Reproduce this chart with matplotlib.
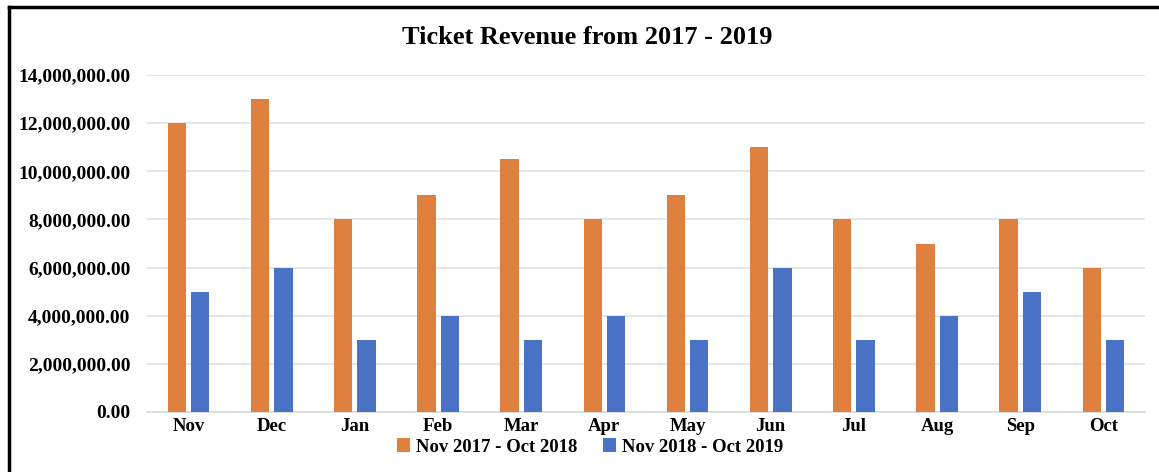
import numpy as np
import matplotlib.pyplot as plt
from matplotlib.lines import Line2D
from matplotlib.ticker import FuncFormatter

months = ["Nov", "Dec", "Jan", "Feb", "Mar", "Apr", "May", "Jun", "Jul", "Aug", "Sep", "Oct"]
rev_2017_2018 = [12000000, 13000000, 8000000, 9000000, 10500000, 8000000,
                 9000000, 11000000, 8000000, 7000000, 8000000, 6000000]
rev_2018_2019 = [5000000, 6000000, 3000000, 4000000, 3000000, 4000000,
                 3000000, 6000000, 3000000, 4000000, 5000000, 3000000]
series_labels = ["Nov 2017 - Oct 2018", "Nov 2018 - Oct 2019"]

orange = '#E0803E'
blue = '#4A72C5'

plt.rcParams['font.family'] = ['Liberation Serif', 'DejaVu Serif']
plt.rcParams['font.weight'] = 'bold'

W, H = 1159, 472
fig = plt.figure(figsize=(W / 100, H / 100), dpi=100)
ax = fig.add_axes([147 / W, 1 - 412 / H, (1145 - 147) / W, (412 - 75) / H])

x = np.arange(len(months))
bw = 0.22
ax.bar(x - 0.14, rev_2017_2018, bw, color=orange, label=series_labels[0], zorder=3)
ax.bar(x + 0.14, rev_2018_2019, bw, color=blue, label=series_labels[1], zorder=3)

ax.set_xlim(-0.5, len(months) - 0.5)
ax.set_ylim(0, 14000000)
ax.set_yticks(np.arange(0, 14000001, 2000000))
ax.yaxis.set_major_formatter(FuncFormatter(lambda v, p: f"{v:,.2f}"))
ax.set_xticks(x)
ax.set_xticklabels(months)
ax.tick_params(axis='y', length=0, labelsize=14, pad=12)
ax.tick_params(axis='x', length=0, labelsize=13.5, pad=4)
for lbl in ax.get_xticklabels() + ax.get_yticklabels():
    lbl.set_fontweight('bold')

ax.grid(axis='y', color='#E0E0E0', linewidth=1.2, zorder=0)
for s in ['top', 'right', 'left']:
    ax.spines[s].set_visible(False)
ax.spines['bottom'].set_color('#D9D9D9')
ax.spines['bottom'].set_linewidth(1.2)

fig.text(587 / W, 1 - 37 / H, "Ticket Revenue from 2017 - 2019", ha='center', va='center',
         fontsize=19, fontweight='bold')

fig.legend(loc='center', bbox_to_anchor=(590 / W, 1 - 447 / H), ncol=2, frameon=False,
           prop={'size': 13.5, 'weight': 'bold'}, handlelength=0.7, handleheight=0.7,
           handletextpad=0.3, columnspacing=1.4)

# partial black frame (top and left edges)
fig.add_artist(Line2D([9 / W, 1], [1 - 7 / H, 1 - 7 / H], color='black', linewidth=2.5,
                      transform=fig.transFigure))
fig.add_artist(Line2D([9 / W, 9 / W], [0, 1 - 7 / H], color='black', linewidth=2.5,
                      transform=fig.transFigure))

fig.savefig("out.png", dpi=100)
